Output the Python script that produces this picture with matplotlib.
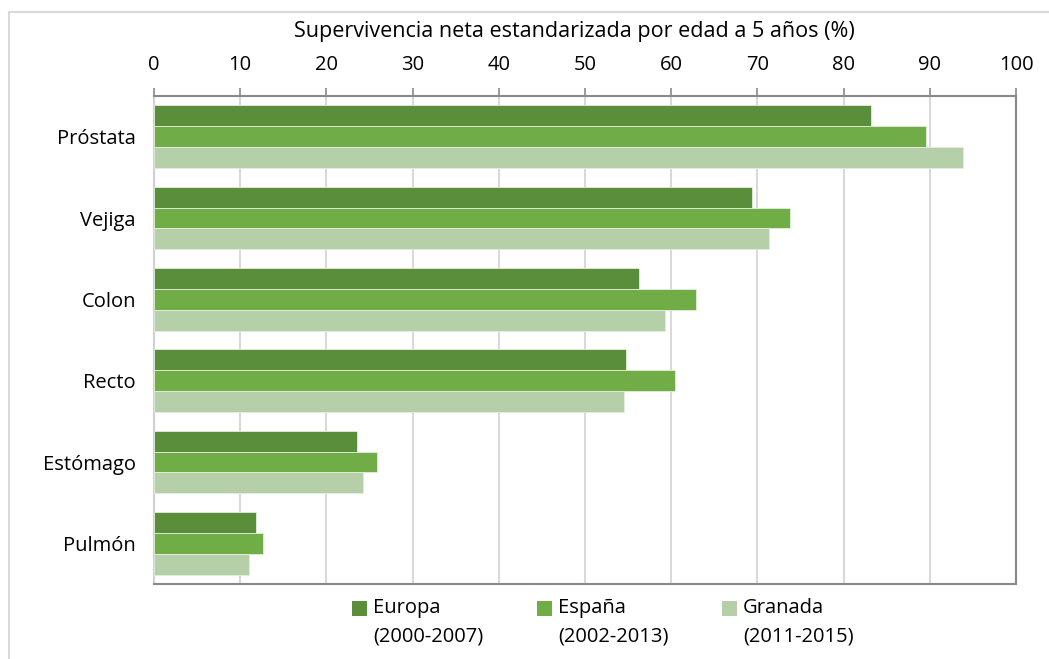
import matplotlib
matplotlib.use("Agg")
import matplotlib.pyplot as plt
from matplotlib.patches import Rectangle
import numpy as np

plt.rcParams['font.family'] = ['Open Sans', 'DejaVu Sans']

categories = ["Próstata", "Vejiga", "Colon", "Recto", "Estómago", "Pulmón"]
europa = [83.2, 69.4, 56.3, 54.7, 23.6, 11.8]
espana = [89.6, 73.8, 62.9, 60.4, 25.9, 12.6]
granada = [93.8, 71.4, 59.3, 54.5, 24.2, 11.0]
series_labels = ["Europa\n(2000-2007)", "España\n(2002-2013)", "Granada\n(2011-2015)"]
colors = ["#5B8E3A", "#70AD47", "#B5CFA8"]
xticks = [0, 10, 20, 30, 40, 50, 60, 70, 80, 90, 100]
title = "Supervivencia neta estandarizada por edad a 5 años (%)"

W, H = 1049, 659
fig = plt.figure(figsize=(W / 100, H / 100), dpi=100)
fig.patch.set_facecolor("white")
fig.patches.append(Rectangle((9 / W, -0.05), 1.2, 1 - 12 / H + 0.05, transform=fig.transFigure,
                             fill=False, edgecolor="#d9d9d9", linewidth=1.5))

ax = fig.add_axes([154 / W, 1 - 584 / H, (1016 - 154) / W, (584 - 96) / H])
y = np.arange(len(categories))
bh = 0.257
for i, (vals, lab, c) in enumerate(zip([europa, espana, granada], series_labels, colors)):
    ax.barh(y + (i - 1) * bh, vals, height=bh, color=c, edgecolor="#e4eedd", linewidth=0.6,
            label=lab, zorder=3)

ax.set_xlim(0, 100)
ax.set_ylim(len(categories) - 0.5, -0.5)
ax.set_yticks(y)
ax.set_yticklabels(categories, fontsize=14.5)
ax.tick_params(axis='y', length=0, pad=13)
ax.xaxis.tick_top()
ax.set_xticks(xticks)
ax.set_xticklabels([str(v) for v in xticks], fontsize=14.5)
ax.tick_params(axis='x', direction='out', length=6, width=1.2, color="#898989", pad=9)
ax.grid(axis='x', color="#d9d9d9", linewidth=1.5, zorder=0)
ax.set_axisbelow(True)
for s in ["top", "bottom", "right"]:
    ax.spines[s].set_color("#898989")
    ax.spines[s].set_linewidth(1.5)
ax.spines["left"].set_color("#d0d0d0")
ax.spines["left"].set_linewidth(1.5)

# axis title
fig.text(574 / W, 1 - 32 / H, title, fontsize=15.5, ha="center", va="center")

# legend drawn manually: square aligned with first text line
leg_x = [352, 537, 722]
for lx, lab, c in zip(leg_x, series_labels, colors):
    fig.patches.append(Rectangle((lx / W, 1 - 616 / H), 15 / W, 15 / H,
                                 transform=fig.transFigure, facecolor=c, edgecolor="none"))
    fig.text((lx + 21) / W, 1 - 598 / H, lab, fontsize=14.5, ha="left", va="top",
             linespacing=1.55)

fig.savefig("out.png", dpi=100, facecolor="white")
